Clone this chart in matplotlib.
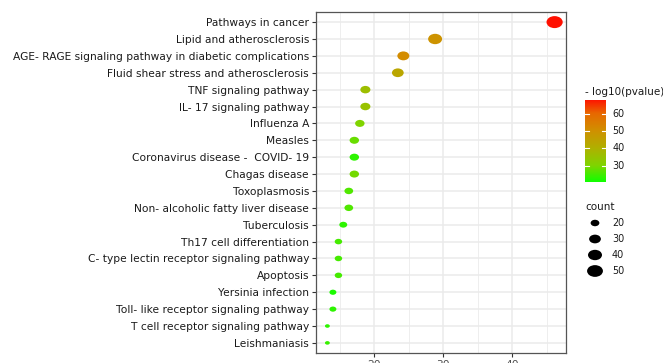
import numpy as np
import matplotlib
matplotlib.use("Agg")
import matplotlib.pyplot as plt
from matplotlib.colors import LinearSegmentedColormap, Normalize
from matplotlib.path import Path

# DejaVu шире Arial - ближе к растянутому тексту в исходнике
plt.rcParams["font.family"] = ["DejaVu Sans"]

# ---------- данные ----------
pathways = [
    "Pathways in cancer",
    "Lipid and atherosclerosis",
    "AGE- RAGE signaling pathway in diabetic complications",
    "Fluid shear stress and atherosclerosis",
    "TNF signaling pathway",
    "IL- 17 signaling pathway",
    "Influenza A",
    "Measles",
    "Coronavirus disease -  COVID- 19",
    "Chagas disease",
    "Toxoplasmosis",
    "Non- alcoholic fatty liver disease",
    "Tuberculosis",
    "Th17 cell differentiation",
    "C- type lectin receptor signaling pathway",
    "Apoptosis",
    "Yersinia infection",
    "Toll- like receptor signaling pathway",
    "T cell receptor signaling pathway",
    "Leishmaniasis",
]
x_vals = [46.1, 28.8, 24.2, 23.4, 18.7, 18.7, 17.9, 17.1, 17.1, 17.1,
          16.3, 16.3, 15.5, 14.8, 14.8, 14.8, 14.0, 14.0, 13.2, 13.2]
counts = [52, 40, 31, 30, 24, 24, 22, 22, 22, 22,
          20, 20, 18, 17, 17, 17, 16, 16, 13, 13]
neglog_p = [68, 49, 51, 43, 36, 35, 30, 28, 23, 29,
            26, 26, 23, 25, 25, 25, 21.5, 23, 23, 24]
x_ticks = [20, 30, 40]
cbar_ticks = [30, 40, 50, 60]
size_breaks = [20, 30, 40, 50]
# ----------------------------

# градиент green -> red как в ggplot
cmap = LinearSegmentedColormap.from_list(
    "gr",
    [(0.0, "#10ff00"), (0.2, "#80d400"), (0.41, "#b0b000"),
     (0.62, "#d09000"), (0.83, "#e86800"), (1.0, "#ff1000")],
)
norm = Normalize(vmin=20.5, vmax=68)

# точки в исходнике немного растянуты по горизонтали
circ = Path.unit_circle()
ell = Path(circ.vertices * np.array([1.35, 1.0]), circ.codes)

cmin, cmax = 12, 52


def dot_size(c):
    c = np.asarray(c, dtype=float)
    rad = 1 + 5 * np.sqrt(np.clip((c - cmin) / (cmax - cmin), 0, None))
    w_px = 2.7 * rad
    return (w_px * 0.72) ** 2


fig = plt.figure(figsize=(6.63, 3.63), dpi=100)
ax = fig.add_axes([0.4766, 0.0275, 0.3771, 0.9395])

n = len(pathways)
ypos = np.arange(n)[::-1]

ax.scatter(x_vals, ypos, s=dot_size(counts), c=neglog_p, cmap=cmap, norm=norm,
           marker=ell, linewidths=0, zorder=3)

ax.set_xlim(11.55, 47.75)
ax.set_ylim(-0.6, n - 0.4)
ax.set_yticks(ypos)
ax.set_yticklabels(pathways, fontsize=7.7, color="#1a1a1a")
ax.set_xticks(x_ticks)
ax.set_xticklabels([str(t) for t in x_ticks], fontsize=7.7, color="#4d4d4d")
ax.set_xticks([15, 25, 35, 45], minor=True)
ax.tick_params(axis="both", which="major", length=3, width=0.8, color="#333333", pad=2)
ax.tick_params(axis="x", which="minor", length=0)

ax.grid(True, which="major", color="#ebebeb", lw=1.1, zorder=0)
ax.grid(True, which="minor", axis="x", color="#ebebeb", lw=0.6, zorder=0)
ax.set_axisbelow(True)
for sp in ax.spines.values():
    sp.set_color("#555555")
    sp.set_linewidth(0.9)

# легенда цвета
fig.text(585 / 663, 1 - 92 / 363, "- log10(pvalue)", fontsize=7.5,
         ha="left", va="center", color="#1a1a1a")
cax = fig.add_axes([585 / 663, 1 - 182 / 363, 21 / 663, 82 / 363])
grad = np.linspace(norm.vmin, norm.vmax, 256).reshape(-1, 1)
cax.imshow(grad, aspect="auto", cmap=cmap, norm=norm, origin="lower",
           extent=[0, 1, norm.vmin, norm.vmax])
cax.set_xlim(0, 1)
cax.set_ylim(norm.vmin, norm.vmax)
cax.set_xticks([])
cax.set_yticks([])
for sp in cax.spines.values():
    sp.set_visible(False)
for t in cbar_ticks:
    cax.plot([0, 0.2], [t, t], color="white", lw=0.8)
    cax.plot([0.8, 1], [t, t], color="white", lw=0.8)
    cax.text(1.3, t, str(t), fontsize=6.9, va="center", ha="left",
             color="#1a1a1a", transform=cax.get_yaxis_transform())

# легенда размера
fig.text(585 / 663, 1 - 207 / 363, "count", fontsize=7.5,
         ha="left", va="center", color="#1a1a1a")
lax = fig.add_axes([0, 0, 1, 1], facecolor="none")
lax.set_xlim(0, 663)
lax.set_ylim(363, 0)
lax.axis("off")
leg_y = [223, 239, 255, 271]
lax.scatter([595] * len(size_breaks), leg_y, s=dot_size(size_breaks),
            color="black", marker=ell, linewidths=0)
for yy, b in zip(leg_y, size_breaks):
    lax.text(612, yy, str(b), fontsize=6.9, va="center", ha="left", color="#1a1a1a")

fig.savefig("out.png", dpi=100)
